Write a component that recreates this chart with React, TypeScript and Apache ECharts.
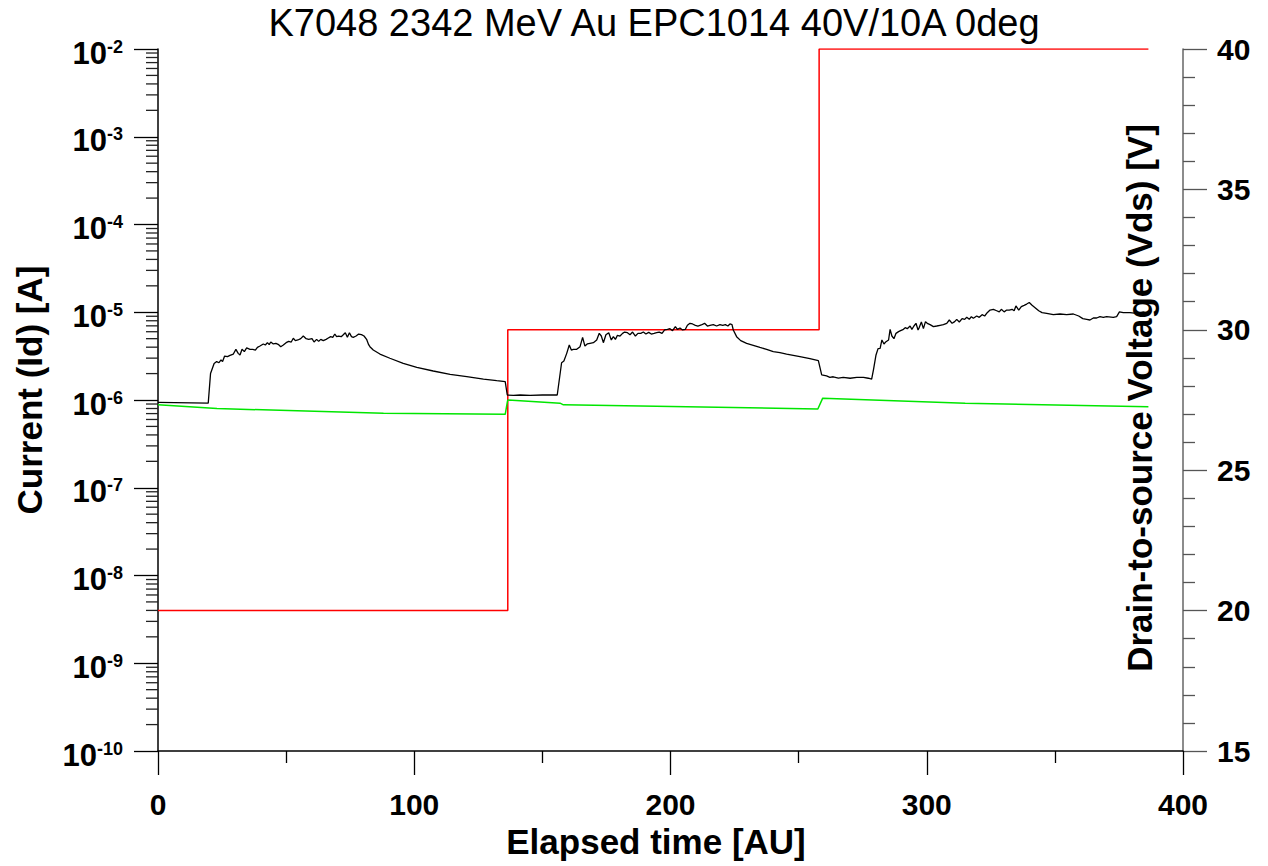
import React, { useEffect, useRef } from "react";
import * as echarts from "echarts";

const FONT = '"Liberation Sans", Arial, Helvetica, sans-serif';

// Drain current Id [A] versus elapsed time, one array per Vds step
const idAt20V: [number, number][] = [
  [0, 9.4e-7], [19.6, 9.2e-7], [20.5, 2.0e-6], [21.9, 2.6e-6], [22.9, 2.74e-6], [23.8, 2.66e-6],
  [24.6, 2.86e-6], [25.2, 2.74e-6], [26.0, 3.17e-6], [27.1, 3.12e-6], [28.1, 3.23e-6], [29.4, 3.34e-6],
  [30.4, 3.78e-6], [31.3, 3.4e-6], [32.0, 3.26e-6], [32.8, 3.78e-6], [33.7, 3.56e-6], [34.6, 3.92e-6],
  [35.9, 3.78e-6], [37.0, 3.78e-6], [38.0, 3.71e-6], [38.8, 3.98e-6], [39.8, 4.12e-6], [41.1, 4.35e-6],
  [41.9, 4.23e-6], [42.7, 4.5e-6], [43.4, 4.27e-6], [44.0, 4.58e-6], [45.0, 4.35e-6], [46.0, 4.42e-6],
  [47.1, 4.27e-6], [47.9, 4.05e-6], [48.9, 4.23e-6], [50.0, 4.5e-6], [51.0, 4.66e-6], [52.0, 4.58e-6],
  [52.8, 5.05e-6], [53.6, 4.75e-6], [54.6, 4.83e-6], [55.7, 5.0e-6], [56.7, 5.36e-6], [57.8, 5.0e-6],
  [58.8, 4.91e-6], [60.1, 5.0e-6], [60.9, 4.58e-6], [61.9, 4.91e-6], [62.7, 4.66e-6], [63.5, 4.91e-6],
  [64.5, 4.75e-6], [65.6, 4.91e-6], [66.3, 5.05e-6], [67.4, 5.27e-6], [68.2, 5.18e-6], [69.0, 5.65e-6],
  [69.7, 5.27e-6], [70.5, 5.36e-6], [71.5, 5.27e-6], [72.3, 5.55e-6], [73.1, 5.85e-6], [73.9, 5.18e-6],
  [74.7, 5.85e-6], [75.5, 5.27e-6], [76.2, 5.18e-6], [77.3, 5.36e-6], [78.3, 5.65e-6], [79.4, 5.55e-6],
  [80.4, 5.36e-6], [81.4, 4.91e-6], [82.2, 4.27e-6], [82.7, 4.05e-6], [84.0, 3.71e-6], [86.6, 3.34e-6],
  [90.5, 2.99e-6], [95.7, 2.62e-6], [101.0, 2.36e-6], [107.4, 2.14e-6], [114.0, 1.96e-6], [120.5, 1.85e-6],
  [127.0, 1.73e-6], [132.2, 1.66e-6], [135.5, 1.62e-6],
];

const idAt30V: [number, number][] = [
  [136.3, 1.14e-6], [138.7, 1.13e-6], [141.3, 1.14e-6], [145.2, 1.13e-6], [150.0, 1.14e-6], [155.8, 1.14e-6],
  [157.5, 2.66e-6], [158.4, 2.78e-6], [159.5, 3.4e-6], [160.5, 4.23e-6], [161.3, 3.71e-6], [162.1, 3.78e-6],
  [163.4, 3.78e-6], [164.7, 4.05e-6], [165.7, 5.18e-6], [166.6, 4.12e-6], [167.5, 4.35e-6], [168.6, 4.42e-6],
  [169.9, 4.5e-6], [171.2, 4.83e-6], [172.2, 5.75e-6], [173.0, 5.36e-6], [173.8, 4.5e-6], [174.8, 5.55e-6],
  [175.9, 5.85e-6], [176.9, 4.83e-6], [177.7, 5.27e-6], [178.5, 4.91e-6], [179.3, 5.46e-6], [180.3, 5.36e-6],
  [181.3, 5.75e-6], [182.1, 5.95e-6], [183.2, 5.85e-6], [184.2, 5.55e-6], [185.2, 5.95e-6], [186.3, 5.36e-6],
  [187.3, 5.75e-6], [188.4, 5.75e-6], [189.4, 5.95e-6], [190.4, 5.65e-6], [191.5, 5.9e-6], [192.5, 5.65e-6],
  [193.6, 5.75e-6], [194.6, 5.85e-6], [195.6, 5.95e-6], [196.7, 5.75e-6], [197.7, 6.28e-6], [198.8, 6.39e-6],
  [199.8, 6.5e-6], [200.8, 6.17e-6], [201.9, 6.85e-6], [202.7, 6.39e-6], [203.7, 6.61e-6], [204.7, 6.28e-6],
  [205.8, 6.39e-6], [206.6, 7.1e-6], [207.6, 7.48e-6], [208.6, 7.35e-6], [209.7, 7.1e-6], [210.7, 6.97e-6],
  [212.0, 7.16e-6], [213.3, 7.48e-6], [214.4, 6.97e-6], [215.4, 7.1e-6], [216.7, 7.22e-6], [218.0, 6.97e-6],
  [219.3, 7.22e-6], [220.4, 7.1e-6], [221.4, 7.22e-6], [222.4, 6.97e-6], [223.2, 7.35e-6], [224.0, 7.22e-6],
  [224.5, 6.28e-6], [225.8, 5.27e-6], [227.4, 4.75e-6], [229.7, 4.42e-6], [232.3, 4.2e-6], [234.9, 3.98e-6],
  [237.5, 3.78e-6], [240.1, 3.55e-6], [242.7, 3.46e-6], [245.3, 3.34e-6], [247.9, 3.23e-6], [250.5, 3.12e-6],
  [254.4, 2.96e-6], [257.7, 2.81e-6],
];

const idAt40V: [number, number][] = [
  [259.0, 1.93e-6], [260.9, 1.88e-6], [262.2, 1.81e-6], [263.5, 1.84e-6], [265.5, 1.78e-6], [267.4, 1.81e-6],
  [270.1, 1.77e-6], [272.7, 1.81e-6], [275.3, 1.81e-6], [277.2, 1.77e-6], [278.5, 1.73e-6], [279.2, 2.2e-6],
  [280.2, 3.26e-6], [281.0, 3.85e-6], [281.8, 3.88e-6], [282.5, 4.83e-6], [283.3, 4.35e-6], [284.1, 4.62e-6],
  [285.1, 4.83e-6], [285.7, 6.39e-6], [286.4, 5.36e-6], [287.2, 5.0e-6], [288.0, 5.75e-6], [289.0, 6.01e-6],
  [289.8, 6.17e-6], [290.9, 6.39e-6], [291.6, 6.67e-6], [292.4, 6.5e-6], [293.5, 6.97e-6], [294.2, 6.39e-6],
  [295.0, 6.97e-6], [295.8, 7.48e-6], [296.6, 6.28e-6], [297.1, 6.73e-6], [297.9, 7.74e-6], [298.7, 6.5e-6],
  [299.5, 7.81e-6], [300.2, 7.48e-6], [301.3, 7.22e-6], [302.6, 6.85e-6], [303.9, 6.97e-6], [305.2, 7.1e-6],
  [306.5, 7.22e-6], [307.8, 7.48e-6], [308.8, 8.16e-6], [309.9, 7.48e-6], [310.9, 7.81e-6], [311.7, 8.3e-6],
  [312.7, 7.74e-6], [313.8, 8.45e-6], [314.8, 8.3e-6], [315.6, 8.75e-6], [316.6, 8.3e-6], [317.4, 8.91e-6],
  [318.2, 8.53e-6], [319.5, 9.06e-6], [320.5, 8.75e-6], [321.6, 9.38e-6], [322.6, 9.06e-6], [323.6, 9.89e-6],
  [324.7, 1.06e-5], [326.0, 1.08e-5], [327.3, 1.04e-5], [328.3, 1.01e-5], [329.1, 1.08e-5], [330.2, 1.01e-5],
  [331.2, 1.06e-5], [332.2, 1.06e-5], [333.3, 1.08e-5], [334.1, 1.04e-5], [334.8, 1.18e-5], [335.9, 1.06e-5],
  [336.9, 1.16e-5], [338.0, 1.2e-5], [339.0, 1.24e-5], [340.0, 1.29e-5], [341.1, 1.2e-5], [342.4, 1.12e-5],
  [343.7, 1.04e-5], [345.0, 9.89e-6], [346.8, 9.73e-6], [349.4, 9.38e-6], [352.0, 9.55e-6], [354.6, 9.38e-6],
  [357.2, 9.55e-6], [359.3, 9.06e-6], [360.9, 8.45e-6], [362.4, 8.3e-6], [363.7, 8.16e-6], [365.0, 8.6e-6],
  [366.3, 8.6e-6], [367.6, 8.91e-6], [368.9, 8.75e-6], [370.2, 8.91e-6], [372.8, 8.75e-6], [374.1, 8.91e-6],
  [375.2, 1.01e-5], [376.7, 9.89e-6], [379.3, 9.89e-6], [381.9, 9.73e-6], [384.5, 1.01e-5], [386.5, 9.73e-6],
];

// Gate leakage current [A]
const gateCurrent: [number, number][] = [
  [0, 8.8e-7], [23, 8.0e-7], [88, 7.05e-7], [135.5, 6.87e-7], [136.4, 9.8e-7], [136.7, 1.0e-6],
  [156.9, 9.2e-7], [158.2, 8.8e-7], [257.5, 7.9e-7], [259.4, 1.05e-6], [315, 9.2e-7], [386.5, 8.4e-7],
];

// Drain-to-source voltage steps [V]
const vdsTime = [0, 136.5, 136.5, 258, 258, 386.5];
const vdsValue = [20, 20, 30, 30, 40, 40];

// Axis ranges
const timeTicks = { min: 0, max: 400, step: 100 };
const currentExpRange = { min: -10, max: -2 };
const voltageTicks = { min: 15, max: 40, step: 5 };

// Log-axis minor tick values 2..9 × 10^n
const minorDecadeTicks: number[] = [];
for (let e = currentExpRange.min; e < currentExpRange.max; e++) {
  for (let k = 2; k <= 9; k++) minorDecadeTicks.push(k * Math.pow(10, e));
}

export default function App() {
  const ref = useRef<HTMLDivElement>(null);

  useEffect(() => {
    if (!ref.current) return;
    const chart = echarts.init(ref.current, undefined, { renderer: "svg" });

    const bold = (size: number) => ({
      fontFamily: FONT,
      fontWeight: "bold" as const,
      fontSize: size,
      color: "#000",
    });

    const axisTitle = (text: string, x: number, y: number, rotation = 0) => ({
      type: "text",
      x,
      y,
      rotation,
      style: {
        text,
        fontFamily: FONT,
        fontWeight: "bold",
        fontSize: 35,
        fill: "#000",
        align: "center",
        verticalAlign: "middle",
      },
    });

    chart.setOption({
      animation: false,
      backgroundColor: "#fff",
      grid: { left: 158, right: 85, top: 49, bottom: 115, containLabel: false },
      xAxis: {
        type: "value",
        min: timeTicks.min,
        max: timeTicks.max,
        interval: timeTicks.step,
        axisLine: { onZero: false, lineStyle: { color: "#000", width: 1.5 } },
        axisTick: { length: 24, lineStyle: { color: "#000", width: 1.3 } },
        minorTick: { show: true, splitNumber: 2, length: 12, lineStyle: { color: "#000", width: 1.3 } },
        splitLine: { show: false },
        axisLabel: { ...bold(30), margin: 38 },
      },
      yAxis: [
        {
          type: "log",
          logBase: 10,
          min: Math.pow(10, currentExpRange.min),
          max: Math.pow(10, currentExpRange.max),
          interval: 1,
          position: "left",
          axisLine: { show: true, onZero: false, lineStyle: { color: "#000", width: 1.5 } },
          axisTick: { show: true, length: 24, lineStyle: { color: "#000", width: 1.3 } },
          splitLine: { show: false },
          axisLabel: {
            margin: 35,
            padding: [8, 0, 0, 0],
            formatter: (v: number) => `{b|10}{s|${Math.round(Math.log10(v))}}`,
            rich: {
              b: { ...bold(31), lineHeight: 31 },
              s: { ...bold(18), lineHeight: 18, verticalAlign: "top" },
            },
          },
        },
        {
          type: "value",
          min: voltageTicks.min,
          max: voltageTicks.max,
          interval: voltageTicks.step,
          position: "right",
          axisLine: { show: true, onZero: false, lineStyle: { color: "#666", width: 1.5 } },
          axisTick: { show: true, length: 24, lineStyle: { color: "#555", width: 1.3 } },
          minorTick: { show: true, splitNumber: 5, length: 12, lineStyle: { color: "#555", width: 1.3 } },
          splitLine: { show: false },
          axisLabel: { ...bold(30), margin: 34 },
        },
      ],
      graphic: [
        {
          type: "text",
          x: 654,
          y: 23,
          style: {
            text: "K7048 2342 MeV Au EPC1014 40V/10A 0deg",
            fontFamily: FONT,
            fontSize: 38,
            fill: "#000",
            align: "center",
            verticalAlign: "middle",
          },
        },
        axisTitle("Current (Id) [A]", 29, 390, Math.PI / 2),
        axisTitle("Drain-to-source Voltage (Vds) [V]", 1139, 398, Math.PI / 2),
        axisTitle("Elapsed time [AU]", 656, 841),
      ],
      series: [
        {
          name: "Vds",
          type: "line",
          yAxisIndex: 1,
          data: vdsTime.map((t, i) => [t, vdsValue[i]]),
          showSymbol: false,
          symbol: "none",
          lineStyle: { color: "#ff0000", width: 1.5 },
          z: 2,
        },
        {
          name: "Ig",
          type: "line",
          yAxisIndex: 0,
          data: gateCurrent,
          showSymbol: false,
          symbol: "none",
          lineStyle: { color: "#00e600", width: 1.5 },
          z: 3,
        },
        {
          name: "Id",
          type: "line",
          yAxisIndex: 0,
          data: [...idAt20V, ...idAt30V, ...idAt40V],
          showSymbol: false,
          symbol: "none",
          lineStyle: { color: "#000", width: 1.3 },
          z: 4,
        },
        {
          name: "log minor ticks",
          type: "custom",
          yAxisIndex: 0,
          silent: true,
          clip: false,
          data: minorDecadeTicks.map((v) => [timeTicks.min, v]),
          encode: { x: 0, y: 1 },
          renderItem: (_params: any, api: any) => {
            const p = api.coord([api.value(0), api.value(1)]);
            return {
              type: "line",
              shape: { x1: p[0] - 12, y1: p[1], x2: p[0], y2: p[1] },
              style: { stroke: "#222", lineWidth: 1.3 },
            };
          },
          z: 5,
        },
      ],
    });

    return () => chart.dispose();
  }, []);

  return (
    <div
      ref={ref}
      style={{ position: "fixed", left: 0, top: 0, width: 1268, height: 866, background: "#fff" }}
    />
  );
}
